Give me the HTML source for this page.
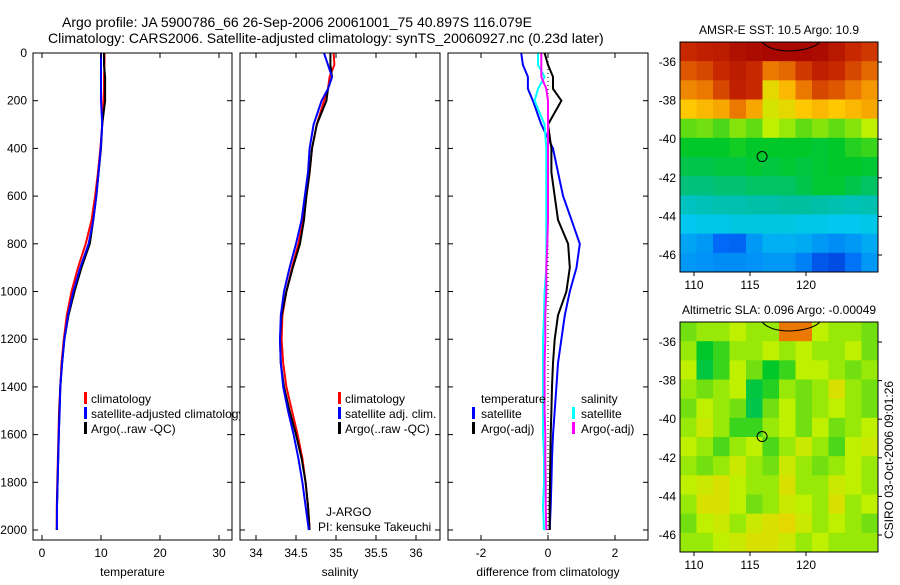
<!DOCTYPE html>
<html><head><meta charset="utf-8"><style>
body{margin:0;background:#fff;width:900px;height:580px;overflow:hidden}
svg text{font-family:"Liberation Sans",sans-serif;font-size:12px;fill:#000}
</style></head><body>
<svg id="fig" width="900" height="580" viewBox="0 0 900 580" xmlns="http://www.w3.org/2000/svg">
<text x="62" y="27" style="font-size:14px">Argo profile: JA 5900786_66 26-Sep-2006 20061001_75 40.897S 116.079E</text>
<text x="48" y="43" style="font-size:14px">Climatology: CARS2006. Satellite-adjusted climatology: synTS_20060927.nc (0.23d later)</text>
<text transform="translate(893,460) rotate(-90)" text-anchor="middle">CSIRO 03-Oct-2006 09:01:26</text>
<g id="g"></g>
</svg>
<script>
// ---------- data ----------
const depths = [0,50,100,150,200,300,400,500,600,700,800,900,1000,1100,1200,1300,1400,1500,1600,1700,1800,1900,2000];
const tempClim = [10.6,10.6,10.5,10.5,10.4,10.2,9.9,9.5,9.0,8.4,7.4,6.1,5.0,4.2,3.7,3.3,3.1,2.9,2.8,2.7,2.6,2.5,2.5];
const tempSat  = [10.0,10.0,10.0,10.0,10.0,10.2,9.95,9.6,9.2,8.7,7.9,6.5,5.3,4.4,3.8,3.4,3.1,3.0,2.85,2.75,2.65,2.55,2.55];
const tempArgo = [10.5,10.5,10.7,10.7,10.7,10.2,10.0,9.6,9.2,8.7,8.1,6.7,5.5,4.5,3.8,3.4,3.1,2.95,2.85,2.75,2.65,2.55,2.5];
const salClim  = [34.97,34.98,34.92,34.9,34.85,34.76,34.7,34.67,34.63,34.59,34.53,34.45,34.38,34.33,34.32,34.34,34.38,34.45,34.52,34.58,34.62,34.65,34.67];
const salSat   = [34.85,34.9,34.95,34.9,34.82,34.72,34.67,34.65,34.61,34.57,34.5,34.42,34.35,34.31,34.3,34.31,34.34,34.4,34.47,34.53,34.58,34.62,34.66];
const salArgo  = [34.93,34.93,34.95,34.9,34.88,34.76,34.7,34.67,34.63,34.6,34.55,34.46,34.38,34.32,34.3,34.31,34.35,34.42,34.5,34.57,34.62,34.65,34.67];
const dTempSat = [-0.8,-0.75,-0.6,-0.6,-0.45,-0.2,0.15,0.3,0.45,0.7,0.95,0.85,0.65,0.5,0.4,0.3,0.25,0.2,0.15,0.12,0.1,0.08,0.05];
const dTempArgo= [-0.1,0.0,0.15,0.15,0.4,0.0,0.1,0.1,0.2,0.3,0.6,0.65,0.55,0.3,0.2,0.15,0.12,0.1,0.08,0.07,0.06,0.05,0.05];
const dSalSat  = [-0.3,-0.3,-0.1,-0.3,-0.4,-0.1,-0.05,-0.05,-0.05,-0.05,-0.05,-0.05,-0.1,-0.12,-0.15,-0.15,-0.15,-0.15,-0.15,-0.12,-0.12,-0.15,-0.12];
const dSalArgo = [-0.2,-0.2,-0.2,-0.05,0.0,0.0,0.0,0.0,0.0,0.0,-0.02,-0.05,-0.05,-0.08,-0.08,-0.1,-0.1,-0.1,-0.08,-0.08,-0.07,-0.07,-0.05];
const depthTicks = [0,200,400,600,800,1000,1200,1400,1600,1800,2000];
const tempTicks = [0,10,20,30];
const salTicks = [34,34.5,35,35.5,36];
const diffTicks = [-2,0,2];
const lonTicks = [110,115,120];
const latTicks = [-36,-38,-40,-42,-44,-46];
// SST map: 12 rows (-35 to -47) x 12 cols, colour-scale fraction
const sstGrid = [
[.9,.92,.93,.96,.97,.98,.98,.98,.97,.94,.9,.88],
[.84,.86,.9,.93,.9,.8,.82,.88,.92,.9,.86,.82],
[.78,.8,.86,.92,.9,.66,.72,.8,.86,.84,.8,.76],
[.7,.72,.74,.8,.74,.63,.66,.7,.72,.7,.72,.74],
[.55,.56,.54,.57,.55,.6,.58,.55,.57,.55,.57,.6],
[.5,.5,.5,.51,.5,.5,.5,.5,.49,.5,.52,.53],
[.47,.47,.48,.48,.49,.48,.49,.48,.49,.5,.5,.49],
[.43,.43,.44,.44,.45,.45,.45,.47,.49,.49,.47,.45],
[.36,.37,.38,.38,.39,.39,.4,.4,.39,.38,.37,.38],
[.3,.31,.31,.32,.32,.32,.32,.31,.31,.3,.3,.31],
[.24,.22,.14,.13,.22,.26,.26,.25,.22,.2,.22,.25],
[.22,.21,.2,.2,.21,.22,.22,.18,.1,.08,.16,.22]];
// SLA map
const slaGrid = [
[.56,.58,.58,.6,.58,.58,.8,.8,.6,.58,.58,.56],
[.58,.5,.53,.58,.58,.6,.58,.6,.58,.58,.6,.56],
[.6,.48,.53,.6,.56,.5,.53,.6,.6,.58,.56,.58],
[.58,.56,.58,.6,.48,.52,.58,.56,.58,.64,.58,.56],
[.56,.6,.58,.56,.47,.56,.6,.56,.58,.6,.58,.56],
[.58,.62,.58,.53,.53,.58,.6,.56,.6,.56,.58,.6],
[.6,.58,.54,.58,.6,.54,.58,.62,.58,.54,.6,.62],
[.58,.56,.58,.62,.58,.56,.62,.58,.56,.58,.6,.58],
[.6,.62,.64,.6,.58,.58,.64,.58,.58,.62,.6,.58],
[.58,.64,.64,.6,.56,.58,.62,.6,.58,.64,.58,.6],
[.56,.6,.62,.58,.62,.64,.66,.62,.58,.6,.58,.56],
[.58,.58,.6,.62,.64,.64,.62,.58,.6,.58,.58,.58]];

// ---------- drawing ----------
const NS='http://www.w3.org/2000/svg', G=document.getElementById('g');
function mk(t,a,p){const e=document.createElementNS(NS,t);for(const k in a)e.setAttribute(k,a[k]);(p||G).appendChild(e);return e;}
function txt(x,y,s,anchor,p){const e=mk('text',{x:x,y:y,'text-anchor':anchor||'start'},p);e.textContent=s;return e;}
const yD=d=>53+d*0.2385;
const PY0=53,PY1=540;
function lin(a,b,pa,pb){return v=>pa+(v-a)*(pb-pa)/(b-a);}
const panels=[
 {x0:33,x1:232,sx:lin(0,30,42,219),ticks:tempTicks,label:'temperature',name:'temperature-panel'},
 {x0:240,x1:440,sx:lin(34,36,256,416),ticks:salTicks,label:'salinity',name:'salinity-panel'},
 {x0:448,x1:648,sx:lin(-2,2,481,615),ticks:diffTicks,label:'difference from climatology',name:'difference-panel'}];
function line(p,pg,vals,col,name){
 let d='';vals.forEach((v,i)=>{d+=(i?'L':'M')+p.sx(v).toFixed(1)+','+yD(depths[i]).toFixed(1);});
 const e=mk('path',{d:d,fill:'none',stroke:col,'stroke-width':2},pg);
 
 
}
panels.forEach((p,pi)=>{
 const pg=mk('g',{});
 
 
 mk('clipPath',{id:'c'+pi},pg);
 mk('rect',{x:p.x0,y:PY0,width:(pi==0?207:p.x1-p.x0),height:PY1-PY0},document.getElementById('c'+pi));
 const inner=mk('g',{'clip-path':'url(#c'+pi+')'},pg);
 if(pi==0){line(p,inner,tempClim,'#f00','temp-climatology-line');line(p,inner,tempArgo,'#000','temp-argo-line');line(p,inner,tempSat,'#00f','temp-satellite-line');
  [['#f00','climatology'],['#00f','satellite-adjusted climatology'],['#000','Argo(..raw -QC)']].forEach((l,i)=>{mk('rect',{x:84,y:392+i*15,width:3,height:12,fill:l[0]},inner);const t=txt(91,403+i*15,l[1],'start',inner);});}
 if(pi==1){line(p,inner,salClim,'#f00','sal-climatology-line');line(p,inner,salArgo,'#000','sal-argo-line');line(p,inner,salSat,'#00f','sal-satellite-line');
  [['#f00','climatology'],['#00f','satellite adj. clim.'],['#000','Argo(..raw -QC)']].forEach((l,i)=>{mk('rect',{x:338,y:392+i*15,width:3,height:12,fill:l[0]},inner);const t=txt(345,403+i*15,l[1],'start',inner);});
  txt(326,516,'J-ARGO','start',inner);txt(318,531,'PI: kensuke Takeuchi','start',inner);}
 if(pi==2){mk('line',{x1:p.sx(0),x2:p.sx(0),y1:PY0,y2:PY1,stroke:'#000','stroke-dasharray':'1,3'},inner);
  line(p,inner,dTempSat,'#00f','dtemp-satellite-line');line(p,inner,dTempArgo,'#000','dtemp-argo-line');line(p,inner,dSalSat,'#0ff','dsal-satellite-line');line(p,inner,dSalArgo,'#f0f','dsal-argo-line');
  txt(481,403,'temperature');txt(581,403,'salinity');
  [[472,'#00f','satellite',418],[472,'#000','Argo(-adj)',433],[572,'#0ff','satellite',418],[572,'#f0f','Argo(-adj)',433]].forEach(l=>{mk('rect',{x:l[0],y:l[3]-11,width:3,height:12,fill:l[1]});const t=txt(l[0]+9,l[3],l[2]);});}
 mk('rect',{x:p.x0,y:PY0,width:p.x1-p.x0,height:PY1-PY0,fill:'none',stroke:'#000'},pg);
 p.ticks.forEach(t=>{const x=p.sx(t);mk('line',{x1:x,x2:x,y1:PY1,y2:PY1-5,stroke:'#000'},pg);mk('line',{x1:x,x2:x,y1:PY0,y2:PY0+5,stroke:'#000'},pg);txt(x,557,String(t),'middle',pg);});
 depthTicks.forEach(d=>{const y=yD(d);mk('line',{x1:p.x0,x2:p.x0+5,y1:y,y2:y,stroke:'#000'},pg);mk('line',{x1:p.x1,x2:p.x1-5,y1:y,y2:y,stroke:'#000'},pg);if(pi==0)txt(27,y+4,String(d),'end',pg);});
 txt((p.x0+p.x1)/2,576,p.label,'middle',pg);
});
const stops=[[0,[0,40,200]],[.15,[0,110,250]],[.3,[0,200,240]],[.4,[0,190,160]],[.5,[0,200,40]],[.6,[190,240,0]],[.7,[255,200,0]],[.8,[235,120,0]],[.9,[200,40,0]],[1,[160,0,0]]];
function cmap(v){for(let i=1;i<stops.length;i++){if(v<=stops[i][0]){const a=stops[i-1],b=stops[i],f=(v-a[0])/(b[0]-a[0]);return 'rgb('+a[1].map((c,k)=>Math.round(c+(b[1][k]-c)*f)).join(',')+')';}}return 'rgb(160,0,0)';}
function map(y0,grid,title,name){
 const mg=mk('g',{});
 
 
 const x0=680,x1=878,y1=y0+230;
 const lonX=lin(110,120,694,806), latY=lin(-36,-46,y0+20,y0+213);
 const cw=(x1-x0)/grid[0].length, ch=(y1-y0)/grid.length;
 grid.forEach((row,r)=>row.forEach((v,c)=>{const e=mk('rect',{x:x0+c*cw,y:y0+r*ch,width:cw+0.5,height:ch+0.5,fill:cmap(v)},mg);}));
 mk('path',{d:`M762,${y0} Q770,${y0+9} 790,${y0+9} Q812,${y0+8} 820,${y0}`,fill:'none',stroke:'#000'},mg);
 mk('circle',{cx:lonX(116.079),cy:latY(-40.897),r:5,fill:'none',stroke:'#000'},mg);
 mk('rect',{x:x0,y:y0,width:x1-x0,height:y1-y0,fill:'none',stroke:'#000'},mg);
 lonTicks.forEach(t=>{const x=lonX(t);mk('line',{x1:x,x2:x,y1:y1,y2:y1+4,stroke:'#000'},mg);txt(x,y1+17,String(t),'middle',mg);});
 latTicks.forEach(t=>{const y=latY(t);mk('line',{x1:x1,x2:x1+4,y1:y,y2:y,stroke:'#000'},mg);txt(676,y+4,String(t),'end',mg);});
 txt(779,y0-8,title,'middle',mg);
}
map(42,sstGrid,'AMSR-E SST: 10.5 Argo: 10.9','sst-map');
map(322,slaGrid,'Altimetric SLA: 0.096 Argo: -0.00049','sla-map');
</script>
</body></html>
